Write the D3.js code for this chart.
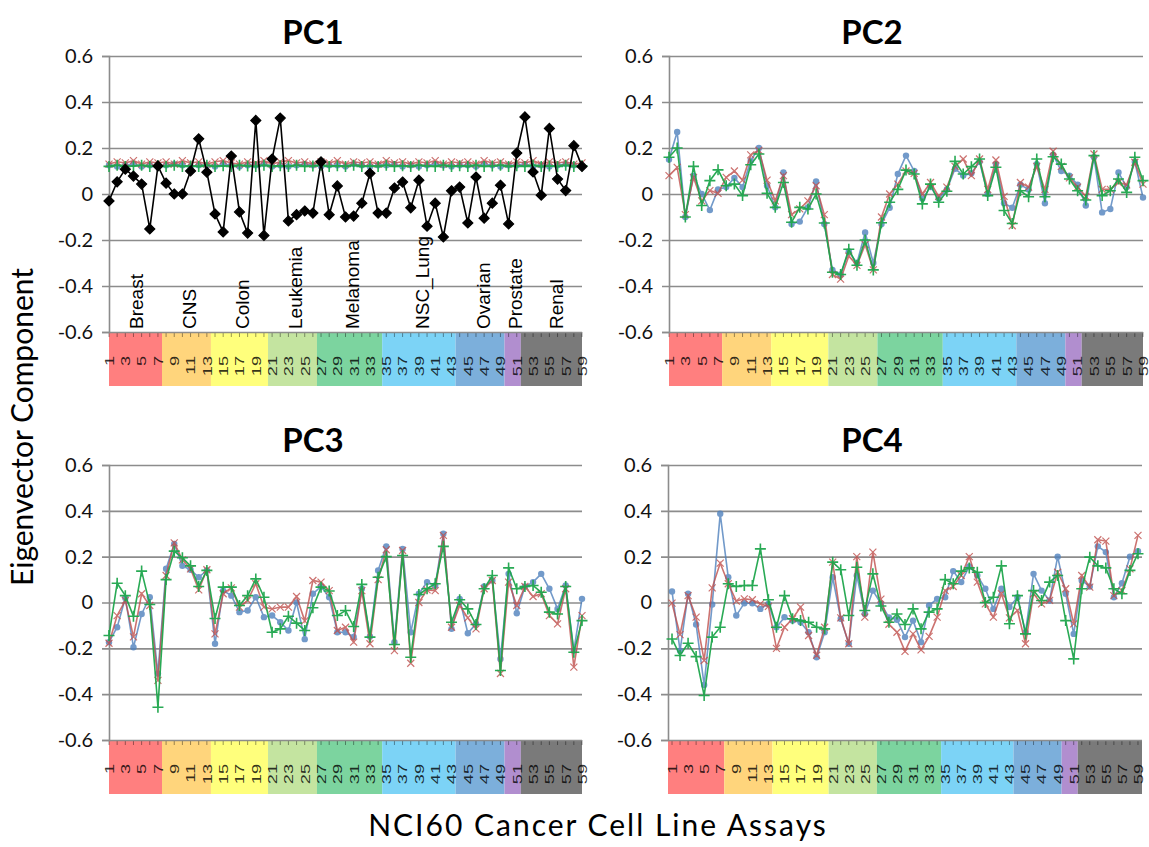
<!DOCTYPE html>
<html>
<head>
<meta charset="utf-8">
<script src="https://cdn.jsdelivr.net/npm/d3@7"></script>
<style>
body { margin: 0; background: #fff; }
svg { display: block; }
</style>
</head>
<body>
<div id="chart"></div>
<script>
var width = 1149,
    height = 847;

// categories: NCI60 cell lines, numbered 1..59
var cells = d3.range(1, 60);
var tissues = ["Breast", "CNS", "Colon", "Leukemia", "Melanoma", "NSC_Lung", "Ovarian", "Prostate", "Renal"];
var tissueSize = [7, 6, 7, 6, 8, 9, 6, 2, 8];
var tissueColor = ["#ff7f7f", "#ffd57c", "#ffff7c", "#c4e4a0", "#7cd49f", "#7cd3f6", "#7cafdb", "#b18ecf", "#7a7a7a"];
var yTicks = [-0.6, -0.4, -0.2, 0, 0.2, 0.4, 0.6];
var xTickLabels = cells.filter(d => d % 2 == 1);

// PC1
var pc1Black = [-0.03, 0.053, 0.108, 0.078, 0.043, -0.152, 0.122, 0.047, 0.0, 0.0,
  0.10, 0.24, 0.095, -0.087, -0.165, 0.165, -0.078, -0.17, 0.32, -0.18,
  0.152, 0.33, -0.117, -0.09, -0.074, -0.083, 0.14, -0.09, 0.035, -0.1,
  -0.096, -0.04, 0.09, -0.083, -0.083, 0.026, 0.052, -0.06, 0.06, -0.14,
  -0.04, -0.187, 0.014, 0.03, -0.126, 0.074, -0.105, -0.04, 0.038, -0.13,
  0.178, 0.335, 0.096, -0.005, 0.285, 0.065, 0.015, 0.21, 0.12];
var pc1Blue = [0.125, 0.12, 0.125, 0.13, 0.12, 0.125, 0.12, 0.125, 0.13, 0.125,
  0.12, 0.125, 0.125, 0.12, 0.13, 0.125, 0.12, 0.125, 0.125, 0.13,
  0.12, 0.125, 0.12, 0.125, 0.13, 0.125, 0.12, 0.125, 0.125, 0.12,
  0.13, 0.125, 0.12, 0.125, 0.125, 0.13, 0.12, 0.125, 0.12, 0.125,
  0.13, 0.125, 0.12, 0.125, 0.125, 0.12, 0.13, 0.125, 0.12, 0.125,
  0.125, 0.13, 0.12, 0.125, 0.12, 0.125, 0.13, 0.125, 0.12];
var pc1Red = [0.13, 0.14, 0.135, 0.145, 0.13, 0.14, 0.135, 0.14, 0.13, 0.145,
  0.135, 0.14, 0.13, 0.14, 0.145, 0.135, 0.13, 0.14, 0.135, 0.145,
  0.13, 0.14, 0.145, 0.135, 0.14, 0.13, 0.14, 0.135, 0.145, 0.13,
  0.14, 0.135, 0.14, 0.13, 0.145, 0.135, 0.14, 0.13, 0.14, 0.135,
  0.145, 0.13, 0.14, 0.135, 0.14, 0.13, 0.145, 0.135, 0.14, 0.13,
  0.14, 0.135, 0.145, 0.13, 0.14, 0.135, 0.14, 0.13, 0.135];
var pc1Green = [0.12, 0.125, 0.12, 0.122, 0.125, 0.12, 0.123, 0.12, 0.125, 0.12,
  0.122, 0.12, 0.125, 0.12, 0.123, 0.12, 0.125, 0.122, 0.12, 0.125,
  0.12, 0.123, 0.12, 0.125, 0.12, 0.122, 0.125, 0.12, 0.123, 0.12,
  0.125, 0.12, 0.122, 0.12, 0.125, 0.12, 0.123, 0.12, 0.125, 0.122,
  0.12, 0.125, 0.12, 0.123, 0.12, 0.125, 0.12, 0.122, 0.125, 0.12,
  0.123, 0.12, 0.125, 0.12, 0.122, 0.12, 0.125, 0.12, 0.123];

// PC2
var pc2Blue = [0.15, 0.27, -0.10, 0.08, 0.0, -0.07, 0.02, 0.03, 0.07, 0.03,
  0.145, 0.2, 0.036, -0.058, 0.094, -0.13, -0.12, -0.058, 0.055, -0.13,
  -0.33, -0.35, -0.25, -0.30, -0.167, -0.3, -0.13, -0.06, 0.087, 0.167,
  0.10, -0.02, 0.03, -0.02, 0.02, 0.11, 0.08, 0.09, 0.14, 0.0,
  0.13, -0.04, -0.06, 0.04, 0.02, 0.13, -0.04, 0.17, 0.1, 0.08,
  0.04, -0.05, 0.16, -0.08, -0.065, 0.094, 0.03, 0.14, -0.015];
var pc2Red = [0.08, 0.116, -0.09, 0.072, -0.03, 0.015, 0.003, 0.072, 0.10, 0.06,
  0.17, 0.19, 0.06, -0.03, 0.08, -0.09, -0.065, -0.03, 0.036, -0.09,
  -0.35, -0.37, -0.27, -0.31, -0.22, -0.33, -0.10, 0.0, 0.043, 0.10,
  0.09, 0.0, 0.05, -0.01, 0.03, 0.12, 0.152, 0.08, 0.152, 0.02,
  0.148, -0.01, -0.138, 0.05, 0.03, 0.12, 0.02, 0.186, 0.12, 0.07,
  0.03, -0.01, 0.174, 0.02, 0.02, 0.05, 0.04, 0.138, 0.043];
var pc2Green = [0.16, 0.2, -0.10, 0.12, -0.05, 0.058, 0.105, 0.036, 0.043, -0.007,
  0.127, 0.174, 0.003, -0.058, 0.05, -0.123, -0.058, -0.065, 0.0, -0.126,
  -0.34, -0.35, -0.24, -0.31, -0.2, -0.33, -0.125, -0.036, 0.02, 0.104,
  0.087, -0.043, 0.043, -0.036, 0.012, 0.142, 0.087, 0.119, 0.152, -0.007,
  0.116, -0.072, -0.128, 0.014, -0.012, 0.152, -0.012, 0.162, 0.13, 0.065,
  0.014, -0.026, 0.167, -0.007, 0.014, 0.065, 0.007, 0.16, 0.058];

// PC3
var pc3Blue = [-0.173, -0.108, 0.02, -0.195, -0.05, 0.023, -0.31, 0.147, 0.256, 0.16,
  0.143, 0.11, 0.14, -0.18, 0.052, 0.03, -0.042, -0.035, 0.023, -0.064,
  -0.057, -0.086, -0.122, 0.0, -0.16, 0.038, 0.07, 0.023, -0.13, -0.13,
  -0.15, 0.06, -0.148, 0.14, 0.245, -0.173, 0.234, -0.13, 0.038, 0.089,
  0.074, 0.3, -0.115, 0.016, -0.134, -0.093, 0.07, 0.096, -0.246, 0.125,
  -0.047, 0.07, 0.089, 0.125, 0.06, -0.028, 0.074, -0.21, 0.016];
var pc3Red = [-0.178, -0.057, 0.009, -0.15, 0.038, -0.013, -0.34, 0.118, 0.26, 0.186,
  0.147, 0.055, 0.143, -0.137, 0.038, 0.064, -0.02, 0.009, 0.082, -0.02,
  -0.028, -0.02, -0.02, 0.026, -0.08, 0.096, 0.089, 0.052, -0.122, -0.108,
  -0.173, 0.052, -0.18, 0.1, 0.23, -0.21, 0.227, -0.265, 0.0, 0.055,
  0.052, 0.293, -0.108, -0.013, -0.067, -0.115, 0.06, 0.096, -0.31, 0.089,
  -0.013, 0.07, 0.026, 0.038, -0.057, -0.093, 0.06, -0.282, -0.057];
var pc3Green = [-0.144, 0.084, 0.03, -0.06, 0.137, -0.009, -0.457, 0.1, 0.224, 0.195,
  0.16, 0.07, 0.14, -0.07, 0.067, 0.067, -0.013, 0.03, 0.103, 0.023,
  -0.13, -0.115, -0.06, -0.09, -0.122, -0.023, 0.067, 0.05, -0.057, -0.035,
  -0.105, 0.079, -0.151, 0.11, 0.2, -0.183, 0.205, -0.239, 0.035, 0.06,
  0.082, 0.245, -0.086, 0.012, -0.028, -0.096, 0.06, 0.118, -0.297, 0.151,
  0.06, 0.07, 0.074, 0.045, -0.042, -0.05, 0.07, -0.217, -0.079];

// PC4
var pc4Blue = [0.048, -0.21, 0.038, -0.096, -0.36, -0.009, 0.387, 0.11, -0.057, -0.003,
  -0.003, -0.028, -0.006, -0.108, -0.064, -0.079, -0.086, -0.13, -0.239, -0.13,
  0.11, -0.071, -0.18, 0.118, -0.05, 0.052, -0.005, -0.065, -0.075, -0.151,
  -0.079, -0.173, -0.013, 0.016, 0.023, 0.137, 0.089, 0.157, 0.118, 0.06,
  -0.028, 0.06, -0.02, 0.023, -0.13, 0.125, 0.052, 0.009, 0.2, 0.038,
  -0.137, 0.096, 0.07, 0.245, 0.22, 0.023, 0.084, 0.2, 0.224];
var pc4Red = [-0.003, -0.14, 0.03, -0.064, -0.253, 0.064, 0.172, 0.082, 0.006, 0.016,
  0.012, -0.006, -0.017, -0.2, -0.108, -0.071, -0.02, -0.144, -0.23, -0.108,
  0.176, -0.067, -0.18, 0.2, -0.064, 0.22, 0.015, -0.095, -0.13, -0.213,
  -0.137, -0.207, -0.148, -0.064, 0.052, 0.07, 0.118, 0.2, 0.089, -0.006,
  -0.064, 0.038, -0.067, -0.035, -0.18, 0.038, -0.006, 0.009, 0.132, 0.06,
  -0.093, 0.118, 0.067, 0.274, 0.268, 0.03, 0.052, 0.147, 0.293];
var pc4Green = [-0.159, -0.231, -0.178, -0.236, -0.406, -0.151, -0.108, 0.082, 0.07, 0.074,
  0.074, 0.234, 0.012, -0.108, 0.03, -0.071, -0.079, -0.086, -0.108, -0.115,
  0.176, 0.143, -0.057, 0.154, -0.035, 0.125, -0.015, -0.086, -0.05, -0.096,
  -0.028, -0.115, -0.042, -0.028, 0.1, 0.082, 0.137, 0.151, 0.132, 0.0,
  0.023, 0.16, -0.093, 0.03, -0.137, 0.052, 0.009, 0.089, 0.118, -0.079,
  -0.246, 0.06, 0.198, 0.16, 0.151, 0.06, 0.038, 0.14, 0.213];

var blue = "#4f81bd", red = "#c0504d", green = "#1ea64c";

var panels = [
  {name: "PC1", left: 109, right: 582, top: 56, bottom: 332, titleX: 313, titleY: 44, onTick: true, labels: true,
   series: [{v: pc1Blue, c: blue, m: "dot"}, {v: pc1Red, c: red, m: "x"}, {v: pc1Green, c: green, m: "plus"}, {v: pc1Black, c: "#000", m: "diamond"}]},
  {name: "PC2", left: 669, right: 1143, top: 56, bottom: 332, titleX: 872, titleY: 44, onTick: true, labels: false,
   series: [{v: pc2Blue, c: blue, m: "dot"}, {v: pc2Red, c: red, m: "x"}, {v: pc2Green, c: green, m: "plus"}]},
  {name: "PC3", left: 109, right: 582, top: 465, bottom: 740, titleX: 313, titleY: 452, onTick: true, labels: false,
   series: [{v: pc3Blue, c: blue, m: "dot"}, {v: pc3Red, c: red, m: "x"}, {v: pc3Green, c: green, m: "plus"}]},
  {name: "PC4", left: 668, right: 1142, top: 465, bottom: 740, titleX: 872, titleY: 452, onTick: false, labels: false,
   series: [{v: pc4Blue, c: blue, m: "dot"}, {v: pc4Red, c: red, m: "x"}, {v: pc4Green, c: green, m: "plus"}]}
];

var markerPath = {
  x: "M-3.5,-3.5L3.5,3.5M-3.5,3.5L3.5,-3.5",
  plus: "M-5.5,0H5.5M0,-5.5V5.5",
  diamond: "M0,-5L5,0L0,5L-5,0Z"
};

var svg = d3.select("#chart").append("svg")
  .attr("width", width)
  .attr("height", height)
  .style("font-family", "Lato, 'Open Sans', sans-serif");

// group start index (1-based)
var tissueStart = [];
var acc = 1;
tissueSize.forEach(n => { tissueStart.push(acc); acc += n; });

var bandH = 54;

panels.forEach(p => {
  var g = svg.append("g");
  var w = p.right - p.left;

  var x = d3.scalePoint().domain(cells).range([p.left, p.right]).padding(p.onTick ? 0 : 0.5);
  var y = d3.scaleLinear().domain([-0.6, 0.6]).range([p.bottom, p.top]);
  var step = x.step();

  // title
  g.append("text")
    .attr("x", p.titleX).attr("y", p.titleY)
    .attr("text-anchor", "middle")
    .attr("font-weight", "bold")
    .attr("font-size", 33)
    .text(p.name);

  // colored tissue band under the plot
  var band = g.append("g");
  band.selectAll("rect").data(tissues).enter().append("rect")
    .attr("x", (d, i) => Math.max(p.left, x(tissueStart[i]) - step / 2))
    .attr("width", (d, i) => {
      var x0 = Math.max(p.left, x(tissueStart[i]) - step / 2);
      var x1 = Math.min(p.right, x(tissueStart[i] + tissueSize[i] - 1) + step / 2);
      return x1 - x0;
    })
    .attr("y", p.bottom)
    .attr("height", bandH)
    .attr("fill", (d, i) => tissueColor[i]);

  // x axis: small ticks + rotated odd labels
  var xAxis = d3.axisBottom(x).tickValues(xTickLabels).tickSize(0).tickPadding(0);
  var xa = g.append("g").attr("transform", "translate(0," + p.bottom + ")").call(xAxis);
  xa.select(".domain").remove();
  xa.selectAll(".tick text")
    .attr("font-family", "'Liberation Sans', Arial, sans-serif")
    .attr("font-size", 12.5)
    .attr("fill", "#000")
    .attr("fill-opacity", 0.8)
    .attr("text-anchor", "end")
    .attr("y", 0).attr("dy", "0.35em")
    .attr("transform", "translate(0,24) rotate(-90) scale(1.45,1)");
  band.selectAll(".mtick").data(cells).enter().append("line")
    .attr("class", "mtick")
    .attr("x1", d => x(d)).attr("x2", d => x(d))
    .attr("y1", p.bottom).attr("y2", p.bottom + 5)
    .attr("stroke", "#000").attr("stroke-opacity", 0.4);

  // y axis with gridlines
  var yAxis = d3.axisLeft(y).tickValues(yTicks).tickSize(7).tickPadding(9)
    .tickFormat(d => d == 0 ? "0" : d.toFixed(1));
  var ya = g.append("g").attr("transform", "translate(" + p.left + ",0)").call(yAxis);
  ya.select(".domain").attr("stroke", "#8c8c8c").attr("stroke-width", 1.6);
  ya.selectAll(".tick line").attr("x2", w).attr("x1", -7)
    .attr("stroke", "#8c8c8c").attr("stroke-width", 1.6);
  ya.selectAll(".tick text").attr("font-size", 20).attr("fill", "#111")
    .attr("font-family", "Lato, 'Open Sans', sans-serif");

  // tissue names (PC1 only)
  if (p.labels) {
    g.selectAll(".tname").data(tissues).enter().append("text")
      .attr("class", "tname")
      .attr("font-family", "'Liberation Sans', Arial, sans-serif")
      .attr("font-size", 19)
      .attr("dy", "0.35em")
      .attr("transform", (d, i) => {
        var cx = (x(tissueStart[i]) + x(tissueStart[i] + tissueSize[i] - 1)) / 2 + 3;
        return "translate(" + cx + "," + (p.bottom - 3) + ") rotate(-90)";
      })
      .text(d => d);
  }

  // series
  var line = d3.line().x((d, i) => x(cells[i])).y(d => y(d));
  p.series.forEach(s => {
    var sg = g.append("g").attr("opacity", s.c == "#000" ? 1 : (s.m == "plus" ? 0.95 : 0.8));
    sg.append("path")
      .attr("d", line(s.v))
      .attr("fill", "none")
      .attr("stroke", s.c)
      .attr("stroke-width", 1.6);
    if (s.m == "dot") {
      sg.selectAll("circle").data(s.v).enter().append("circle")
        .attr("cx", (d, i) => x(cells[i])).attr("cy", d => y(d))
        .attr("r", 3.2).attr("fill", s.c);
    } else {
      sg.selectAll(".mk").data(s.v).enter().append("path")
        .attr("class", "mk")
        .attr("transform", (d, i) => "translate(" + x(cells[i]) + "," + y(d) + ")")
        .attr("d", markerPath[s.m])
        .attr("fill", s.m == "diamond" ? s.c : "none")
        .attr("stroke", s.c)
        .attr("stroke-width", s.m == "plus" ? 1.6 : 1.2);
    }
  });
});

// axis titles
svg.append("text")
  .attr("transform", "translate(22,427) rotate(-90)")
  .attr("text-anchor", "middle")
  .attr("dy", "0.35em")
  .attr("font-size", 30)
  .text("Eigenvector Component");

svg.append("text")
  .attr("x", 598).attr("y", 836)
  .attr("text-anchor", "middle")
  .attr("font-size", 30)
  .attr("letter-spacing", 2)
  .text("NCI60 Cancer Cell Line Assays");
</script>
</body>
</html>
